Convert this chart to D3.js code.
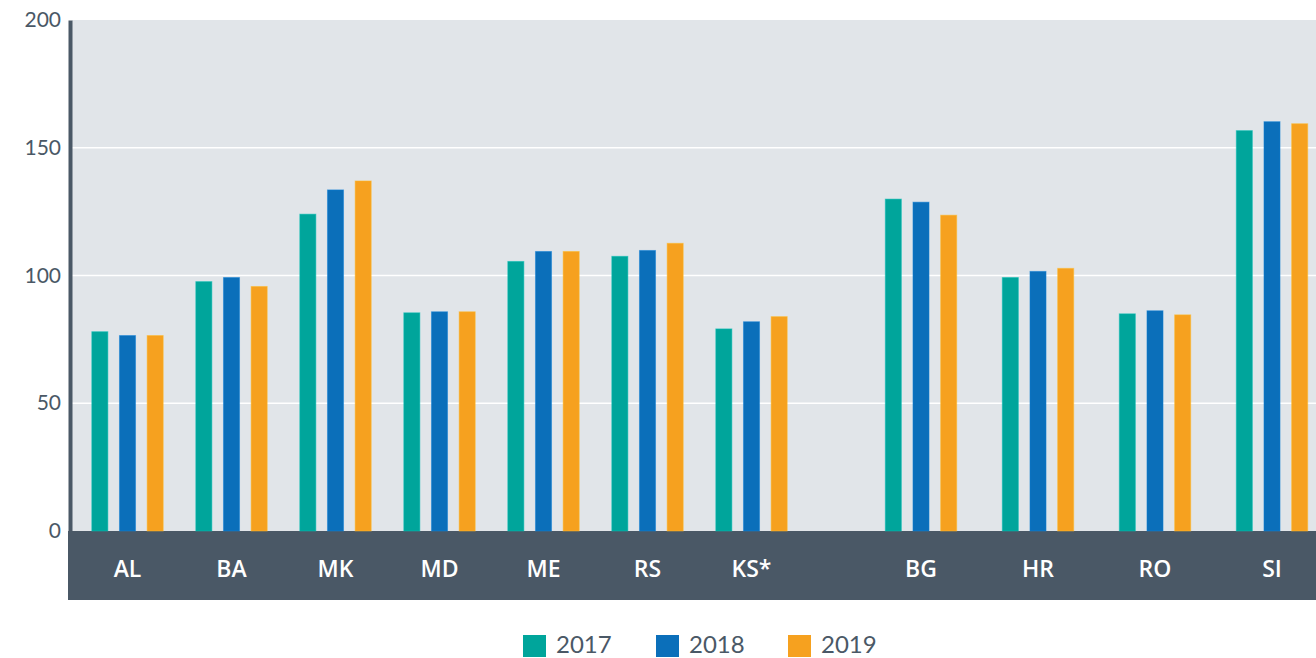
<!DOCTYPE html>
<html>
<head>
<meta charset="utf-8">
<script src="https://cdn.jsdelivr.net/npm/d3@7"></script>
<style>
  body { margin: 0; background: #fff; }
  svg { display: block; font-family: Lato, "Open Sans", sans-serif; }
  .cat { font-family: "Open Sans", sans-serif; font-weight: 600; }
</style>
</head>
<body>
<svg id="chart" width="1316" height="658"></svg>
<script>
// data
const groupA = ["AL", "BA", "MK", "MD", "ME", "RS", "KS*"]
const groupB = ["BG", "HR", "RO", "SI"]
const years = ["2017", "2018", "2019"]
const v2017 = [78, 97.6, 124, 85.4, 105.5, 107.5, 79.1, 129.9, 99.2, 85, 156.7]
const v2018 = [76.5, 99.2, 133.5, 85.8, 109.4, 109.8, 81.9, 128.7, 101.6, 86.2, 160.2]
const v2019 = [76.5, 95.7, 137, 85.8, 109.4, 112.6, 83.9, 123.6, 102.8, 84.6, 159.4]
const yTicks = [0, 50, 100, 150, 200]
const colors = ["#00a59b", "#0b6fba", "#f6a11f"]

const svg = d3.select("#chart")
const W = 1316
const plotLeft = 72, plotTop = 20, plotBottom = 531, bandBottom = 600

const y = d3.scaleLinear().domain([0, 200]).range([plotBottom, plotTop])

const xA = d3.scaleBand().domain(groupA).range([75.5, 803.5])
const xB = d3.scaleBand().domain(groupB).range([862.5, 1330.5])
const xPos = c => groupA.includes(c) ? xA(c) + xA.bandwidth() / 2 : xB(c) + xB.bandwidth() / 2
const inner = d3.scaleBand().domain(years).range([-35.7, 35.7]).paddingInner(0.42)

// background
svg.append("rect")
  .attr("x", plotLeft).attr("y", plotTop)
  .attr("width", W - plotLeft).attr("height", plotBottom - plotTop)
  .attr("fill", "#e1e5e9")

// grid
svg.append("g")
  .selectAll("line")
  .data(yTicks.filter(t => t > 0 && t < 200))
  .enter().append("line")
  .attr("x1", plotLeft).attr("x2", W)
  .attr("y1", d => y(d)).attr("y2", d => y(d))
  .attr("stroke", "#ffffff").attr("stroke-width", 1.5)

// y axis
const yAxis = svg.append("g")
  .attr("transform", `translate(${plotLeft - 2},0)`)
  .call(d3.axisLeft(y).tickValues(yTicks).tickSize(0).tickPadding(9))
yAxis.select(".domain").attr("stroke", "#4a5866").attr("stroke-width", 4)
yAxis.selectAll("text").attr("font-size", 21).attr("fill", "#4a5866")
  .attr("font-family", "Lato, sans-serif")

// category band
svg.append("rect")
  .attr("x", plotLeft - 4).attr("y", plotBottom)
  .attr("width", W - plotLeft + 4).attr("height", bandBottom - plotBottom)
  .attr("fill", "#4a5866")

// bars
const cats = groupA.concat(groupB)
const series = [v2017, v2018, v2019]
const rows = []
cats.forEach((c, i) => {
  years.forEach((yr, k) => rows.push({ c: c, yr: yr, k: k, v: series[k][i] }))
})

svg.append("g")
  .selectAll("rect")
  .data(rows)
  .enter().append("rect")
  .attr("x", d => xPos(d.c) + inner(d.yr))
  .attr("y", d => y(d.v))
  .attr("width", inner.bandwidth())
  .attr("height", d => plotBottom - y(d.v))
  .attr("fill", d => colors[d.k])
  .attr("stroke", d => d3.color(colors[d.k]).brighter(0.4))
  .attr("stroke-opacity", 0.5)
  .attr("stroke-width", 1)

// category labels
svg.append("g")
  .selectAll("text")
  .data(cats)
  .enter().append("text")
  .attr("class", "cat")
  .attr("x", d => xPos(d))
  .attr("y", 577)
  .attr("text-anchor", "middle")
  .attr("fill", "#ffffff")
  .attr("font-size", 23)
  .text(d => d)

// legend
const legendX = [523, 656, 788]
const leg = svg.append("g")
years.forEach((yr, k) => {
  leg.append("rect")
    .attr("x", legendX[k]).attr("y", 635)
    .attr("width", 23).attr("height", 22)
    .attr("fill", colors[k])
  leg.append("text")
    .attr("x", legendX[k] + 33).attr("y", 653)
    .attr("fill", "#4a5866")
    .attr("font-size", 24)
    .text(yr)
})
</script>
</body>
</html>
